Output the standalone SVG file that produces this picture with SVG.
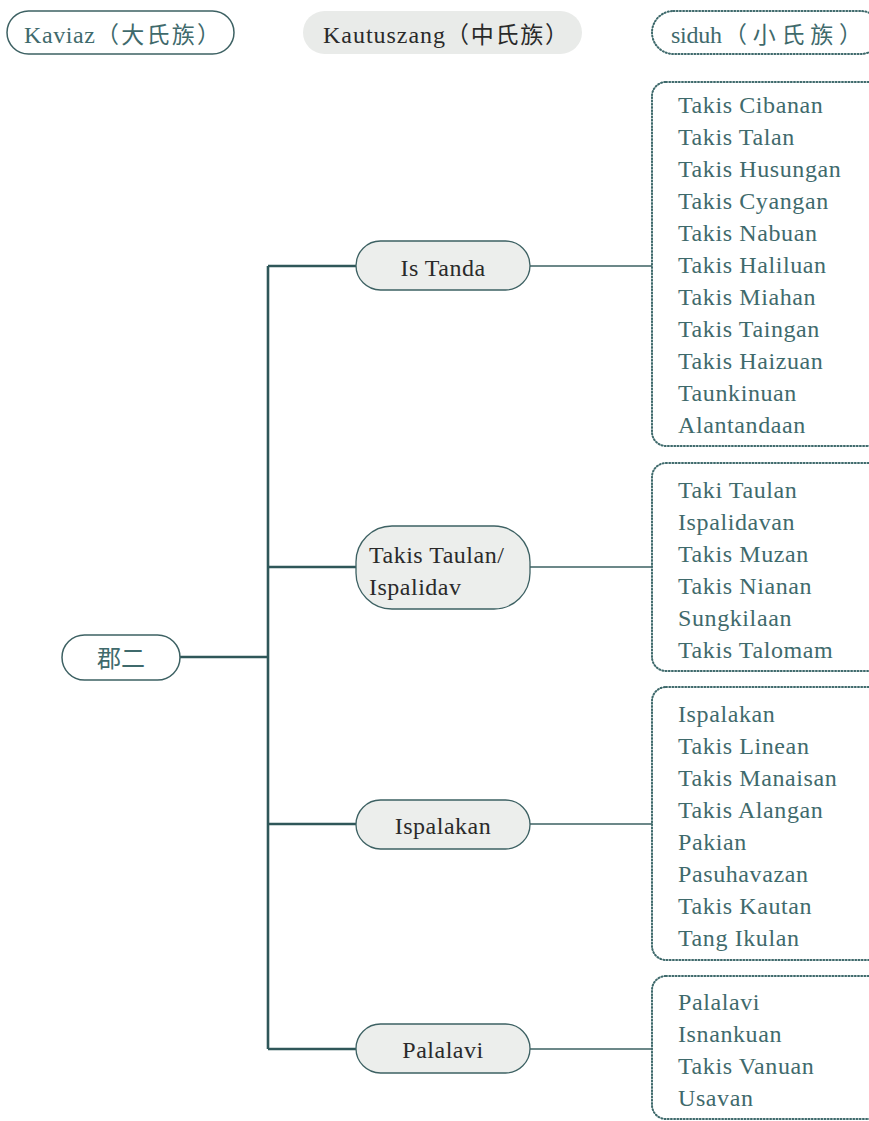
<svg xmlns="http://www.w3.org/2000/svg" width="869" height="1121" viewBox="0 0 869 1121">
<style>
.t{font-family:"Liberation Serif","Noto Sans CJK TC",serif;}
.teal{fill:#3f6a6c;}
.dark{fill:#2a2a2a;}
.nd{font-size:24px;letter-spacing:0.5px;}
.hd{font-size:23px;}
.list{font-size:24px;fill:#3f6a6c;font-family:"Liberation Serif",serif;letter-spacing:0.6px;}
.dot{fill:none;stroke:#3f6a6c;stroke-width:2;stroke-dasharray:1 2.2;stroke-linecap:round;}
.br{fill:#eceeec;stroke:#3d6163;stroke-width:1.3;}
.trunk{fill:none;stroke:#2f5759;stroke-width:2.6;}
.thin{fill:none;stroke:#3d6163;stroke-width:1.5;}
</style>
<rect width="869" height="1121" fill="#ffffff"/>
<g id="legend-kaviaz">
<rect x="7" y="11" width="227" height="43" rx="21.5" fill="#fff" stroke="#3d6163" stroke-width="1.5"/>
<text y="43" class="t teal hd"><tspan x="24" font-size="24" textLength="71" lengthAdjust="spacing">Kaviaz</tspan><tspan x="96" textLength="124" lengthAdjust="spacing">（大氏族）</tspan></text>
</g>
<g id="legend-kautuszang">
<rect x="303" y="11" width="279" height="43" rx="21.5" fill="#e9ebe9"/>
<text y="43" class="t dark hd"><tspan x="323" font-size="24" textLength="122" lengthAdjust="spacing">Kautuszang</tspan><tspan x="446" textLength="122" lengthAdjust="spacing">（中氏族）</tspan></text>
</g>
<g id="legend-siduh">
<rect x="652" y="11" width="230" height="43" rx="21.5" class="dot"/>
<text y="43" class="t teal hd"><tspan x="671" font-size="24" textLength="51" lengthAdjust="spacing">siduh</tspan><tspan x="724" textLength="138" lengthAdjust="spacing">（小氏族）</tspan></text>
</g>
<g id="connectors">
<path class="trunk" d="M180 657H268M268 266V1049M268 266H356M268 567H356M268 824H356M268 1049H356"/>
<path class="thin" d="M530 266H652M530 567H652M530 824H652M530 1049H652"/>
</g>
<g id="root">
<rect x="62" y="635" width="118" height="45" rx="22.5" fill="#fff" stroke="#3d6163" stroke-width="1.5"/>
<text x="121" y="667" text-anchor="middle" class="t teal" font-size="24">郡二</text>
</g>
<g id="n-istanda">
<rect x="356" y="241" width="174" height="49" rx="24.5" class="br"/>
<text x="443" y="276" text-anchor="middle" class="t dark nd">Is Tanda</text>
</g>
<g id="n-takistaulan">
<rect x="356" y="526" width="174" height="83" rx="36" class="br"/>
<text x="369" y="563" class="t dark nd">Takis Taulan/</text>
<text x="369" y="595" class="t dark nd">Ispalidav</text>
</g>
<g id="n-ispalakan">
<rect x="356" y="800" width="174" height="49" rx="24.5" class="br"/>
<text x="443" y="834" text-anchor="middle" class="t dark nd">Ispalakan</text>
</g>
<g id="n-palalavi">
<rect x="356" y="1024" width="174" height="49" rx="24.5" class="br"/>
<text x="443" y="1058" text-anchor="middle" class="t dark nd">Palalavi</text>
</g>
<g id="list-1">
<rect x="652" y="82" width="230" height="364" rx="14" class="dot"/>
<text class="list" x="678" y="113">Takis Cibanan</text>
<text class="list" x="678" y="145">Takis Talan</text>
<text class="list" x="678" y="177">Takis Husungan</text>
<text class="list" x="678" y="209">Takis Cyangan</text>
<text class="list" x="678" y="241">Takis Nabuan</text>
<text class="list" x="678" y="273">Takis Haliluan</text>
<text class="list" x="678" y="305">Takis Miahan</text>
<text class="list" x="678" y="337">Takis Taingan</text>
<text class="list" x="678" y="369">Takis Haizuan</text>
<text class="list" x="678" y="401">Taunkinuan</text>
<text class="list" x="678" y="433">Alantandaan</text>
</g>
<g id="list-2">
<rect x="652" y="463" width="230" height="208" rx="14" class="dot"/>
<text class="list" x="678" y="498">Taki Taulan</text>
<text class="list" x="678" y="530">Ispalidavan</text>
<text class="list" x="678" y="562">Takis Muzan</text>
<text class="list" x="678" y="594">Takis Nianan</text>
<text class="list" x="678" y="626">Sungkilaan</text>
<text class="list" x="678" y="658">Takis Talomam</text>
</g>
<g id="list-3">
<rect x="652" y="687" width="230" height="273" rx="14" class="dot"/>
<text class="list" x="678" y="722">Ispalakan</text>
<text class="list" x="678" y="754">Takis Linean</text>
<text class="list" x="678" y="786">Takis Manaisan</text>
<text class="list" x="678" y="818">Takis Alangan</text>
<text class="list" x="678" y="850">Pakian</text>
<text class="list" x="678" y="882">Pasuhavazan</text>
<text class="list" x="678" y="914">Takis Kautan</text>
<text class="list" x="678" y="946">Tang Ikulan</text>
</g>
<g id="list-4">
<rect x="652" y="976" width="230" height="143" rx="14" class="dot"/>
<text class="list" x="678" y="1010">Palalavi</text>
<text class="list" x="678" y="1042">Isnankuan</text>
<text class="list" x="678" y="1074">Takis Vanuan</text>
<text class="list" x="678" y="1106">Usavan</text>
</g>
</svg>
